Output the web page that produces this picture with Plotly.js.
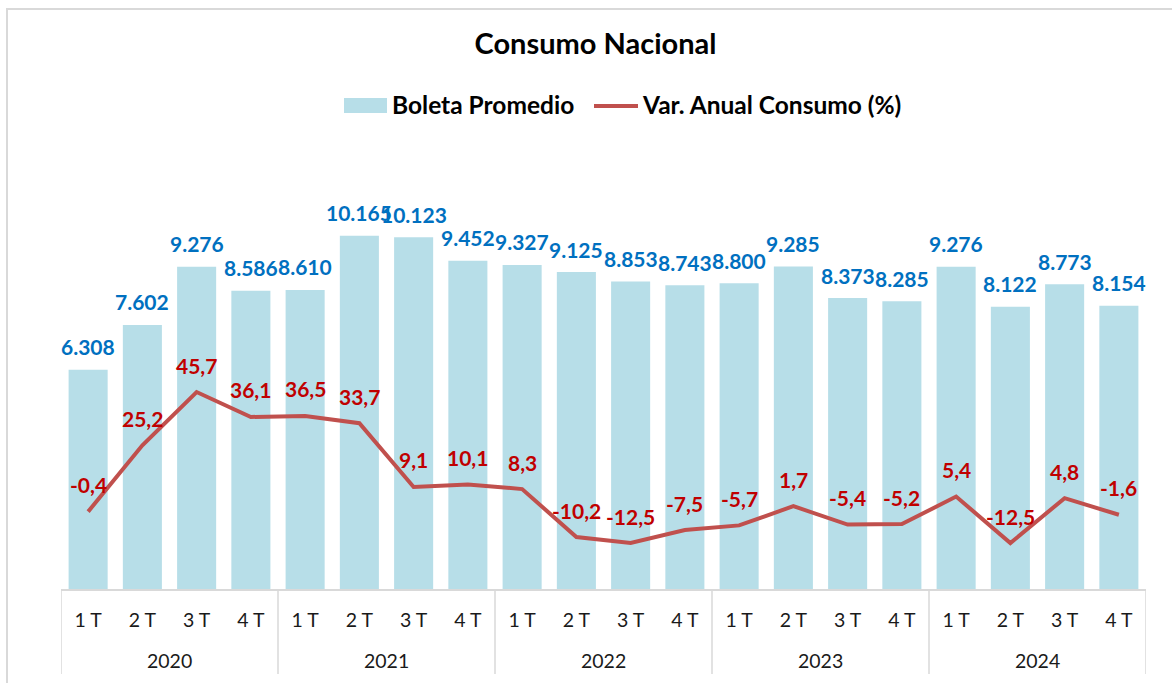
<!DOCTYPE html>
<html>
<head>
<meta charset="utf-8">
<script src="https://cdn.plot.ly/plotly-3.0.1.min.js"></script>
<style>
html,body{margin:0;padding:0;background:#fff;}
#chart{width:1172px;height:683px;}
</style>
</head>
<body>
<div id="chart"></div>
<script>
const years = ["2020","2020","2020","2020","2021","2021","2021","2021","2022","2022","2022","2022","2023","2023","2023","2023","2024","2024","2024","2024"];
const quarters = ["1 T","2 T","3 T","4 T","1 T","2 T","3 T","4 T","1 T","2 T","3 T","4 T","1 T","2 T","3 T","4 T","1 T","2 T","3 T","4 T"];
const boleta = [6308,7602,9276,8586,8610,10165,10123,9452,9327,9125,8853,8743,8800,9285,8373,8285,9276,8122,8773,8154];
const varAnual = [-0.4,25.2,45.7,36.1,36.5,33.7,9.1,10.1,8.3,-10.2,-12.5,-7.5,-5.7,1.7,-5.4,-5.2,5.4,-12.5,4.8,-1.6];
const seriesNames = ["Boleta Promedio", "Var. Anual Consumo (%)"];

const FONT = "Lato, 'Noto Sans', sans-serif";
const fmtThousands = v => String(v).replace(/\B(?=(\d{3})+(?!\d))/g, '.');
const fmtDecimal = v => v.toFixed(1).replace('.', ',');

const W = 1172, H = 683;
const M = {l: 61, r: 26, t: 149, b: 94};
const pw = W - M.l - M.r, ph = H - M.t - M.b;
const px2x = p => (p - M.l) / pw;           // pixel -> paper x
const px2y = p => (H - M.b - p) / ph;       // pixel -> paper y

const BAR_COLOR = '#B7DEE8', LINE_COLOR = '#C0504D';
const idx = boleta.map((_, i) => i);

const traces = [
  {
    type: 'bar', name: seriesNames[0],
    x: idx, y: boleta,
    marker: {color: BAR_COLOR},
    hoverinfo: 'skip', showlegend: false
  },
  {
    type: 'scatter', mode: 'lines', name: seriesNames[1],
    x: idx, y: varAnual, yaxis: 'y2',
    line: {color: LINE_COLOR, width: 4},
    hoverinfo: 'skip', showlegend: false
  }
];

const annotations = [];
boleta.forEach((v, i) => annotations.push({
  x: i, y: v, xref: 'x', yref: 'y', text: fmtThousands(v), showarrow: false,
  yanchor: 'middle', yshift: 23,
  font: {family: FONT, size: 21, color: '#0070C0', weight: 'bold'}
}));
varAnual.forEach((v, i) => annotations.push({
  x: i, y: v, xref: 'x', yref: 'y2', text: fmtDecimal(v), showarrow: false,
  yanchor: 'middle', yshift: 27,
  font: {family: FONT, size: 21, color: '#C00000', weight: 'bold'}
}));

// year groups -> labels and dividers
const groups = [];
years.forEach((y, i) => {
  if (!groups.length || groups[groups.length - 1].year !== y) groups.push({year: y, start: i, end: i});
  else groups[groups.length - 1].end = i;
});
const shapes = [];
groups.forEach(g => {
  annotations.push({
    x: (g.start + g.end) / 2, xref: 'x', y: px2y(660), yref: 'paper',
    text: g.year, showarrow: false, yanchor: 'middle',
    font: {family: FONT, size: 19.5, color: '#1a1a1a'}
  });
});
const bounds = [groups[0].start - 0.5].concat(groups.map(g => g.end + 0.5));
bounds.forEach(b => shapes.push({
  type: 'line', xref: 'x', yref: 'paper', x0: b, x1: b, y0: 0, y1: px2y(674),
  line: {color: '#D9D9D9', width: 1.5}
}));

// custom legend
shapes.push({type: 'rect', xref: 'paper', yref: 'paper',
  x0: px2x(344), x1: px2x(387), y0: px2y(113), y1: px2y(98),
  line: {width: 0}, fillcolor: BAR_COLOR});
shapes.push({type: 'line', xref: 'paper', yref: 'paper',
  x0: px2x(594), x1: px2x(638), y0: px2y(106), y1: px2y(106),
  line: {color: LINE_COLOR, width: 4}});
annotations.push({x: px2x(390), y: px2y(104), xref: 'paper', yref: 'paper',
  xanchor: 'left', yanchor: 'middle', showarrow: false, text: seriesNames[0],
  font: {family: FONT, size: 24.5, color: '#000', weight: 'bold'}});
annotations.push({x: px2x(640), y: px2y(104), xref: 'paper', yref: 'paper',
  xanchor: 'left', yanchor: 'middle', showarrow: false, text: seriesNames[1],
  font: {family: FONT, size: 24.5, color: '#000', weight: 'bold'}});

// outer frame
shapes.push({
  type: 'rect', xref: 'paper', yref: 'paper',
  x0: px2x(7), x1: px2x(W + 20), y0: px2y(H + 20), y1: px2y(9),
  line: {color: '#D9D9D9', width: 2}, fillcolor: 'rgba(0,0,0,0)', layer: 'below'
});

const layout = {
  width: W, height: H, margin: M,
  paper_bgcolor: '#fff', plot_bgcolor: '#fff',
  font: {family: FONT, color: '#1a1a1a'},
  showlegend: false,
  title: {
    text: '<b>Consumo Nacional</b>',
    font: {family: FONT, size: 29, color: '#000'},
    x: 595.5 / W, xref: 'container', xanchor: 'center',
    y: 1 - 44 / H, yref: 'container', yanchor: 'middle'
  },
  bargap: 0.28,
  xaxis: {
    type: 'linear', range: [-0.5, boleta.length - 0.5],
    tickmode: 'array', tickvals: idx, ticktext: quarters,
    showline: true, linecolor: '#D9D9D9', linewidth: 1.5,
    ticks: 'outside', ticklen: 13, tickcolor: 'rgba(0,0,0,0)',
    showgrid: false, zeroline: false,
    tickfont: {family: FONT, size: 19.5, color: '#1a1a1a'},
    fixedrange: true
  },
  yaxis: {
    range: [0, ph / 0.03474],
    visible: false, showgrid: false, zeroline: false, fixedrange: true
  },
  yaxis2: {
    overlaying: 'y', side: 'right',
    range: [-(589 - 510.6) / 2.594, (510.6 - M.t) / 2.594],
    visible: false, showgrid: false, zeroline: false, fixedrange: true
  },
  annotations: annotations,
  shapes: shapes
};

Plotly.newPlot('chart', traces, layout, {displayModeBar: false, staticPlot: true});
</script>
</body>
</html>
